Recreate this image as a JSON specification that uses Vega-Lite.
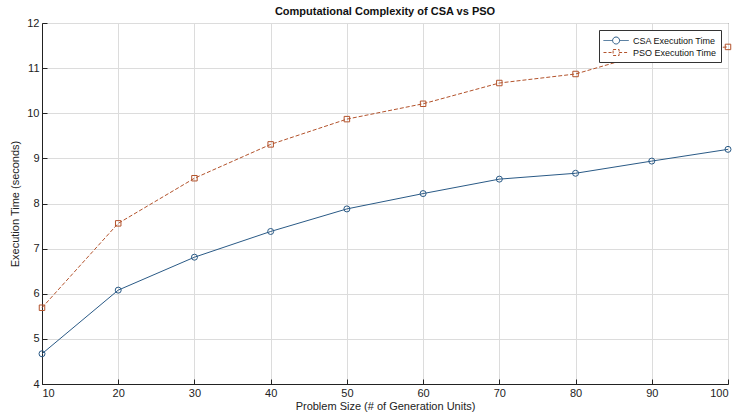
{
  "$schema": "https://vega.github.io/schema/vega-lite/v6.json",
  "width": 686,
  "height": 361,
  "autosize": {"type": "none"},
  "padding": {"left": 42, "top": 23, "right": 8, "bottom": 30},
  "background": "white",
  "title": {"text": "Computational Complexity of CSA vs PSO", "fontSize": 11, "fontWeight": "bold", "font": "Liberation Sans", "color": "#111", "offset": 0, "anchor": "middle"},
  "config": {
    "view": {"stroke": "#333", "strokeWidth": 1},
    "axis": {"labelFont": "Liberation Sans", "titleFont": "Liberation Sans", "labelFontSize": 11, "titleFontSize": 11, "titleFontWeight": "normal", "labelColor": "#222", "titleColor": "#222", "domainColor": "#222", "tickColor": "#222", "gridColor": "#dcdcdc", "gridWidth": 1}
  },
  "data": {"values": [
    {"size": 10, "time": 4.67, "series": "CSA Execution Time"},
    {"size": 20, "time": 6.08, "series": "CSA Execution Time"},
    {"size": 30, "time": 6.81, "series": "CSA Execution Time"},
    {"size": 40, "time": 7.38, "series": "CSA Execution Time"},
    {"size": 50, "time": 7.88, "series": "CSA Execution Time"},
    {"size": 60, "time": 8.22, "series": "CSA Execution Time"},
    {"size": 70, "time": 8.54, "series": "CSA Execution Time"},
    {"size": 80, "time": 8.67, "series": "CSA Execution Time"},
    {"size": 90, "time": 8.94, "series": "CSA Execution Time"},
    {"size": 100, "time": 9.2, "series": "CSA Execution Time"},
    {"size": 10, "time": 5.69, "series": "PSO Execution Time"},
    {"size": 20, "time": 7.56, "series": "PSO Execution Time"},
    {"size": 30, "time": 8.56, "series": "PSO Execution Time"},
    {"size": 40, "time": 9.31, "series": "PSO Execution Time"},
    {"size": 50, "time": 9.87, "series": "PSO Execution Time"},
    {"size": 60, "time": 10.21, "series": "PSO Execution Time"},
    {"size": 70, "time": 10.67, "series": "PSO Execution Time"},
    {"size": 80, "time": 10.87, "series": "PSO Execution Time"},
    {"size": 90, "time": 11.36, "series": "PSO Execution Time"},
    {"size": 100, "time": 11.47, "series": "PSO Execution Time"}
  ]},
  "encoding": {
    "x": {"field": "size", "type": "quantitative", "scale": {"domain": [10, 100], "nice": false, "zero": false},
          "axis": {"title": "Problem Size (# of Generation Units)", "values": [10,20,30,40,50,60,70,80,90,100], "tickSize": -5, "labelPadding": 8, "titlePadding": 2}},
    "y": {"field": "time", "type": "quantitative", "scale": {"domain": [4, 12], "nice": false, "zero": false},
          "axis": {"title": "Execution Time (seconds)", "values": [4,5,6,7,8,9,10,11,12], "tickSize": -5, "labelPadding": 8, "titlePadding": 6}},
    "color": {"field": "series", "type": "nominal", "scale": {"domain": ["CSA Execution Time", "PSO Execution Time"], "range": ["#2a5a86", "#b3532c"]},
      "legend": {"title": null, "orient": "none", "legendX": 557, "legendY": 7, "fillColor": "white", "strokeColor": "#333", "padding": 4, "rowPadding": 0,
        "labelFont": "Liberation Sans", "labelFontSize": 9, "labelColor": "#111", "symbolSize": 144, "symbolStrokeWidth": 1, "labelOffset": 17,
        "encode": {"symbols": {"update": {
          "shape": {"signal": "datum.value === 'CSA Execution Time' ? 'M-1,0H0.52M1.68,0H3.2M0.52,0A0.58,0.58 0 1,0 1.68,0A0.58,0.58 0 1,0 0.52,0Z' : 'M-1,0H0.6M1.6,0H3.2M0.6,-0.5H1.6V0.5H0.6Z'"},
          "strokeDash": {"signal": "datum.value === 'CSA Execution Time' ? [1,0] : [3,2]"},
          "fill": {"value": "transparent"},
          "fillOpacity": {"value": 0}
        }}}}
    }
  },
  "layer": [
    {"transform": [{"filter": "datum.series === 'CSA Execution Time'"}], "mark": {"type": "line", "strokeWidth": 1}},
    {"transform": [{"filter": "datum.series === 'PSO Execution Time'"}], "mark": {"type": "line", "strokeWidth": 1, "strokeDash": [4, 2]}},
    {"transform": [{"filter": "datum.series === 'CSA Execution Time'"}], "mark": {"type": "point", "shape": "circle", "filled": false, "strokeWidth": 1, "size": 36, "opacity": 1}},
    {"transform": [{"filter": "datum.series === 'PSO Execution Time'"}], "mark": {"type": "point", "shape": "square", "filled": false, "strokeWidth": 1, "size": 30, "opacity": 1}}
  ]
}
